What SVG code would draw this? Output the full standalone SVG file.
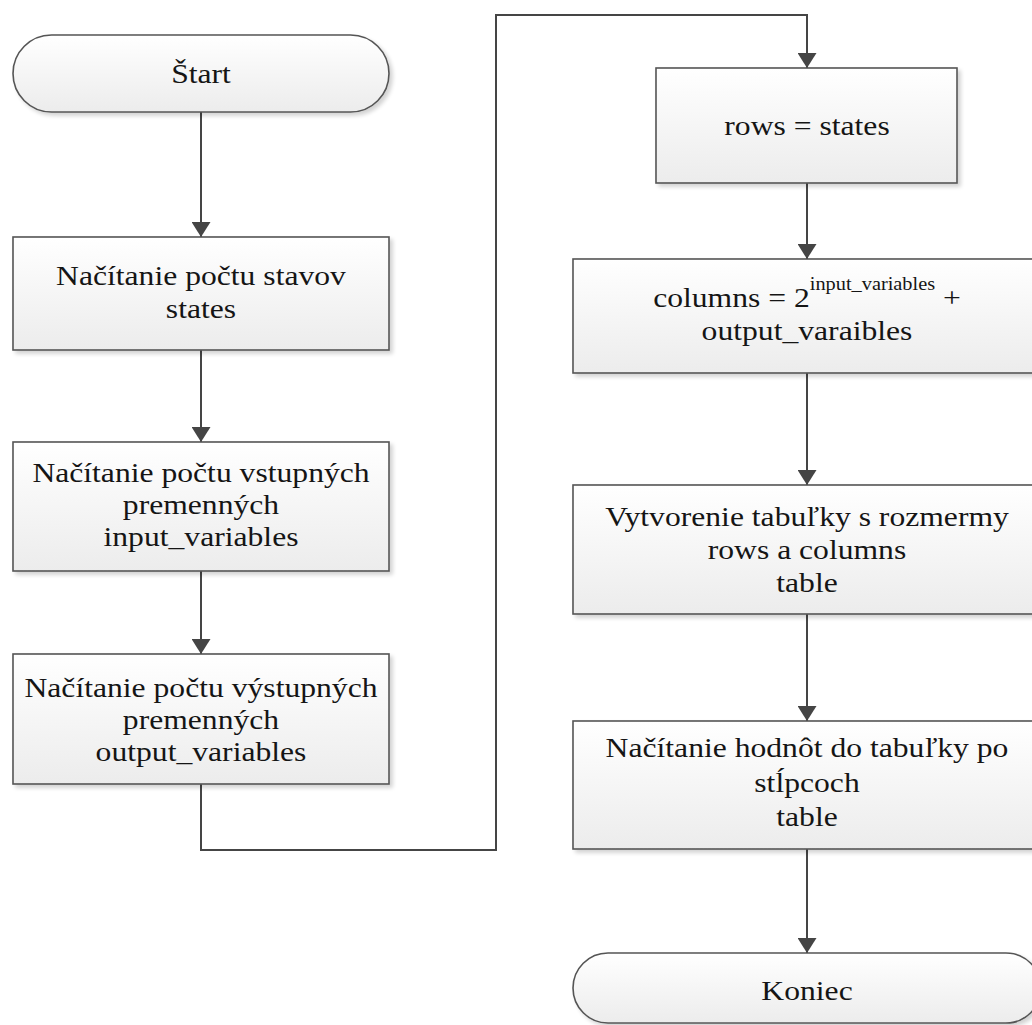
<svg xmlns="http://www.w3.org/2000/svg" width="1032" height="1025" viewBox="0 0 1032 1025">
  <style>
    .shape { fill: url(#boxFill); stroke: #555555; stroke-width: 1.6; filter: url(#shadow); }
    .lbl { font-family: "Liberation Serif", "Times New Roman", serif; font-size: 28px; fill: #151515; text-anchor: middle; }
    .sup { font-size: 18px; }
    .edge { fill: none; stroke: #454545; stroke-width: 2; marker-end: url(#arrow); }
  </style>
  <defs>
    <linearGradient id="boxFill" x1="0" y1="0" x2="0" y2="1">
      <stop offset="0" stop-color="#ffffff"/>
      <stop offset="1" stop-color="#ececec"/>
    </linearGradient>
    <filter id="shadow" x="-5%" y="-5%" width="115%" height="120%">
      <feGaussianBlur in="SourceAlpha" stdDeviation="2"/>
      <feOffset dx="3" dy="3" result="off"/>
      <feComponentTransfer><feFuncA type="linear" slope="0.18"/></feComponentTransfer>
      <feMerge><feMergeNode/><feMergeNode in="SourceGraphic"/></feMerge>
    </filter>
    <marker id="arrow" markerUnits="userSpaceOnUse" markerWidth="16" markerHeight="19" refX="15" refY="9.5" orient="auto">
      <path d="M0,0 L15,9.5 L0,19 Z" fill="#454545"/>
    </marker>
  </defs>

  <rect width="1032" height="1025" fill="#ffffff"/>

  <!-- connectors -->
  <g id="connectors">
    <path class="edge" d="M201,112 V237"/>
    <path class="edge" d="M201,350 V442"/>
    <path class="edge" d="M201,571 V654"/>
    <path class="edge" d="M201,784 V850 H496 V15 H807 V68"/>
    <path class="edge" d="M807,183 V259"/>
    <path class="edge" d="M807,373 V485"/>
    <path class="edge" d="M807,614 V721"/>
    <path class="edge" d="M807,849 V953"/>
  </g>

  <!-- left column -->
  <g id="start">
    <rect class="shape" x="13" y="35" width="376" height="77" rx="38.5" ry="38.5"/>
    <g transform="translate(201,0) scale(1.13,1)">
      <text class="lbl" x="0" y="83">Štart</text>
    </g>
  </g>

  <g id="read-states">
    <rect class="shape" x="13" y="237" width="376" height="113"/>
    <g transform="translate(201,0) scale(1.13,1)">
      <text class="lbl" x="0" y="285">Načítanie počtu stavov</text>
      <text class="lbl" x="0" y="318">states</text>
    </g>
  </g>

  <g id="read-inputs">
    <rect class="shape" x="13" y="442" width="376" height="129"/>
    <g transform="translate(201,0) scale(1.13,1)">
      <text class="lbl" x="0" y="482">Načítanie počtu vstupných</text>
      <text class="lbl" x="0" y="514">premenných</text>
      <text class="lbl" x="0" y="546">input_variables</text>
    </g>
  </g>

  <g id="read-outputs">
    <rect class="shape" x="13" y="654" width="376" height="130"/>
    <g transform="translate(201,0) scale(1.13,1)">
      <text class="lbl" x="0" y="697">Načítanie počtu výstupných</text>
      <text class="lbl" x="0" y="729">premenných</text>
      <text class="lbl" x="0" y="761">output_variables</text>
    </g>
  </g>

  <!-- right column -->
  <g id="rows">
    <rect class="shape" x="656" y="68" width="301" height="115"/>
    <g transform="translate(807,0) scale(1.13,1)">
      <text class="lbl" x="0" y="135">rows = states</text>
    </g>
  </g>

  <g id="columns">
    <rect class="shape" x="573" y="259" width="468" height="114"/>
    <g transform="translate(807,0) scale(1.13,1)">
      <text class="lbl" x="0" y="307">columns = 2<tspan class="sup" dy="-17">input_variables</tspan><tspan dy="17"> +</tspan></text>
      <text class="lbl" x="0" y="340">output_varaibles</text>
    </g>
  </g>

  <g id="create-table">
    <rect class="shape" x="573" y="485" width="468" height="129"/>
    <g transform="translate(807,0) scale(1.13,1)">
      <text class="lbl" x="0" y="526">Vytvorenie tabuľky s rozmermy</text>
      <text class="lbl" x="0" y="559">rows a columns</text>
      <text class="lbl" x="0" y="592">table</text>
    </g>
  </g>

  <g id="fill-table">
    <rect class="shape" x="573" y="721" width="468" height="128"/>
    <g transform="translate(807,0) scale(1.13,1)">
      <text class="lbl" x="0" y="757">Načítanie hodnôt do tabuľky po</text>
      <text class="lbl" x="0" y="792">stĺpcoch</text>
      <text class="lbl" x="0" y="826">table</text>
    </g>
  </g>

  <g id="end">
    <rect class="shape" x="573" y="953" width="468" height="70" rx="35" ry="35"/>
    <g transform="translate(807,0) scale(1.13,1)">
      <text class="lbl" x="0" y="1000">Koniec</text>
    </g>
  </g>
</svg>
